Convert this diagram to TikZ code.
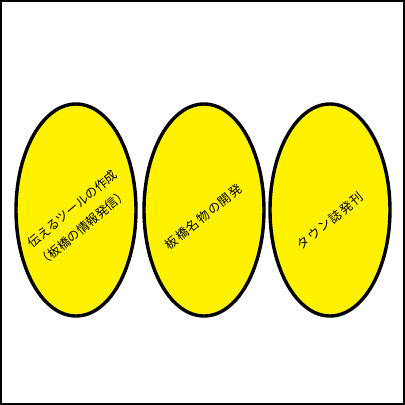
\documentclass[tikz,border=0pt]{standalone}
\usepackage{fontspec}
\usetikzlibrary{shapes.geometric}
\newfontfamily\cjk{Noto Sans CJK JP}
\newfontfamily\cjkwide[LetterSpace=10]{Noto Sans CJK JP}
\begin{document}
\begin{tikzpicture}[x=1pt,y=-1pt,
  oval/.style={draw=black,line width=3.4pt,fill=yellow,ellipse,minimum width=120pt,minimum height=212pt,inner sep=0pt},
  lbl/.style={font=\cjk\fontsize{12.5}{16}\selectfont,rotate=40,inner sep=0pt},
  lblw/.style={font=\cjkwide\fontsize{12.5}{16}\selectfont,rotate=39,inner sep=0pt}]
\useasboundingbox (0,0) rectangle (405,405);
\draw[line width=2.2pt] (1.1,1.1) rectangle (403.9,403.9);
\node[oval] (e1) at (76,210) {};
\node[oval] (e2) at (204,210) {};
\node[oval] (e3) at (330,210) {};
\node[lbl] (t1a) at (72.5,209) {伝えるツールの作成};
\node[lbl] (t1b) at (83,228) {（板橋の情報発信）};
\node[lblw] (t2) at (203.5,217) {板橋名物の開発};
\node[lblw] (t3) at (330,221) {タウン誌発刊};
\end{tikzpicture}
\end{document}
